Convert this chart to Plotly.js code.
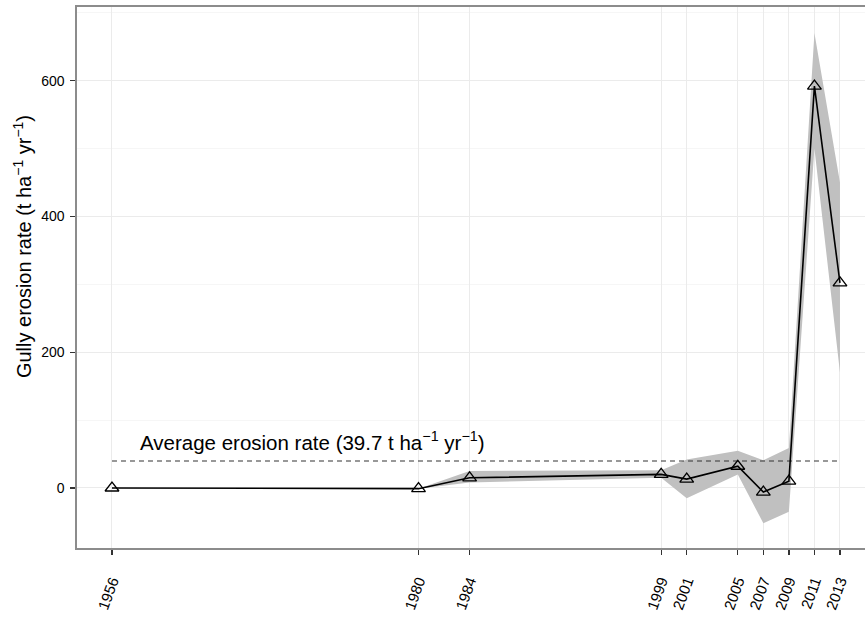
<!DOCTYPE html>
<html>
<head>
<meta charset="utf-8">
<script src="https://cdn.plot.ly/plotly-3.0.1.min.js"></script>
<style>html,body{margin:0;padding:0;background:#fff;}#chart{width:865px;height:621px;}</style>
</head>
<body>
<div id="chart"></div>
<script>
// Data
var years = [1956, 1980, 1984, 1999, 2001, 2005, 2007, 2009, 2011, 2013];
var erosion = [0, -1, 15, 20, 13, 32, -6, 10, 592, 302];
var ribbonYears = [1980, 1984, 1999, 2001, 2005, 2007, 2009, 2011, 2013];
var ribbonLower = [-1, 8, 15, -15, 20, -52, -35, 500, 170];
var ribbonUpper = [-1, 25, 26, 42, 55, 41, 59, 670, 450];
var avgYears = [1956, 2013];
var avgRate = 39.7;
var tickYears = [1956, 1980, 1984, 1999, 2001, 2005, 2007, 2009, 2011, 2013];
var tickLabels = tickYears.map(String);

var font = "Liberation Sans, Arial, Helvetica, sans-serif";

var traces = [
  {x: ribbonYears, y: ribbonLower, type: 'scatter', mode: 'lines',
   line: {width: 0, color: 'rgba(0,0,0,0)'}, hoverinfo: 'skip', showlegend: false},
  {x: ribbonYears, y: ribbonUpper, type: 'scatter', mode: 'lines', fill: 'tonexty',
   fillcolor: '#c0c0c0', line: {width: 0, color: 'rgba(0,0,0,0)'}, hoverinfo: 'skip', showlegend: false},
  {x: avgYears, y: avgYears.map(function(){return avgRate;}), type: 'scatter', mode: 'lines',
   line: {color: '#333333', width: 1.1, dash: '5px,4px'}, showlegend: false},
  {x: years, y: erosion, type: 'scatter', mode: 'lines+markers',
   line: {color: '#000000', width: 1.6},
   marker: {symbol: 'triangle-up-open', size: 12, color: '#000000', line: {width: 1.3, color: '#000000'}},
   showlegend: false}
];

var layout = {
  width: 865, height: 621,
  margin: {l: 77, r: 0, t: 7, b: 73, pad: 0},
  paper_bgcolor: '#ffffff', plot_bgcolor: '#ffffff',
  font: {family: font, color: '#000000'},
  showlegend: false,
  xaxis: {
    range: [1953.26, 2014.96], tickmode: 'array', tickvals: tickYears, ticktext: tickLabels,
    tickangle: -70, tickfont: {size: 15, color: '#000'}, ticks: 'outside', ticklen: 5, tickwidth: 1.3, tickcolor: '#333',
    ticklabelstandoff: 12,
    showgrid: true, gridcolor: '#ebebeb', gridwidth: 1, zeroline: false,
    showline: true, linecolor: '#8c8c8c', linewidth: 1.6, mirror: true
  },
  yaxis: {
    range: [-88.4, 708.4], tickmode: 'linear', tick0: 0, dtick: 200,
    tickfont: {size: 14, color: '#000'}, ticks: 'outside', ticklen: 5, tickwidth: 1.3, tickcolor: '#333',
    ticklabelstandoff: 3,
    showgrid: true, gridcolor: '#ebebeb', gridwidth: 1, zeroline: false,
    showline: true, linecolor: '#8c8c8c', linewidth: 1.6,
    minor: {tick0: 100, dtick: 200, showgrid: true, gridcolor: '#f6f6f6', gridwidth: 1, ticks: ''}
  },
  annotations: [
    {xref: 'x', yref: 'y', x: 1958.0, y: 69.2, xanchor: 'left', yanchor: 'middle', showarrow: false,
     text: 'Average erosion rate (39.7 t ha<sup>\u22121</sup> yr<sup>\u22121</sup>)', font: {size: 20.5, family: font, color: '#000'}},
    {xref: 'paper', yref: 'paper', x: -0.0698, xanchor: 'center', y: 0.558, yanchor: 'middle', showarrow: false,
     textangle: -90, text: 'Gully erosion rate (t ha<sup>\u22121</sup> yr<sup>\u22121</sup>)', font: {size: 20, family: font, color: '#000'}}
  ]
};

Plotly.newPlot('chart', traces, layout, {displayModeBar: false, staticPlot: true});
</script>
</body>
</html>
